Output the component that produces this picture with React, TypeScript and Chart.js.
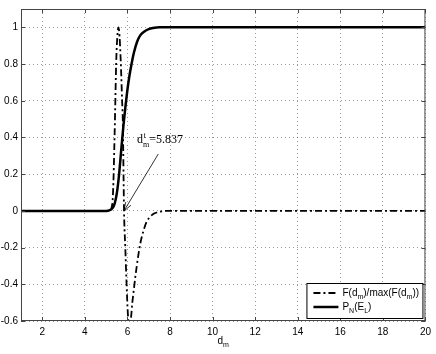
import React, { useEffect, useRef } from "react";
import { Chart, registerables } from "chart.js";
Chart.register(...registerables);

// P_N(E_L) curve (solid)
const pnX = [1, 5.0, 5.15, 5.3, 5.4, 5.5, 5.6, 5.7, 5.8, 5.9, 6.0, 6.1, 6.2, 6.3, 6.45, 6.6, 6.8, 7.0, 7.2, 7.5, 20];
const pnY = [0, 0, 0.003, 0.015, 0.04, 0.095, 0.19, 0.32, 0.45, 0.56, 0.66, 0.74, 0.805, 0.86, 0.92, 0.956, 0.978, 0.99, 0.996, 1, 1];

// F(d_m)/max(F(d_m)) curve (dash-dot)
const fX = [1, 5.1, 5.2, 5.26, 5.3, 5.34, 5.38, 5.42, 5.47, 5.52, 5.58, 5.63, 5.67, 5.71, 5.75, 5.78, 5.8, 5.82, 5.84, 5.9, 5.96, 6.02, 6.1, 6.17, 6.23, 6.3, 6.37, 6.44, 6.52, 6.6, 6.75, 6.9, 7.05, 7.2, 7.4, 7.6, 7.8, 20];
const fY = [0, 0, 0.004, 0.02, 0.05, 0.15, 0.33, 0.53, 0.8, 0.94, 1.0, 0.95, 0.86, 0.74, 0.6, 0.5, 0.35, 0.17, 0, -0.2, -0.4, -0.56, -0.64, -0.58, -0.5, -0.43, -0.36, -0.3, -0.235, -0.18, -0.11, -0.06, -0.035, -0.018, -0.008, -0.003, 0, 0];

const xTicks = [2, 4, 6, 8, 10, 12, 14, 16, 18, 20];
const yTicks = [-0.6, -0.4, -0.2, 0, 0.2, 0.4, 0.6, 0.8, 1];

const ANNOT_VALUE = 5.837;

const SANS = "'Liberation Sans', Arial, Helvetica, sans-serif";
const SERIF = "'Liberation Serif', 'Times New Roman', serif";
const DASHDOT = [7, 3, 2, 3];

type Part = { t: string; size: number; dy: number };

function drawRich(ctx: CanvasRenderingContext2D, parts: Part[], x: number, y: number, family: string, align: "left" | "center" = "left") {
  let total = 0;
  for (const p of parts) {
    ctx.font = `${p.size}px ${family}`;
    total += ctx.measureText(p.t).width;
  }
  let cx = align === "center" ? x - total / 2 : x;
  ctx.textAlign = "left";
  ctx.textBaseline = "alphabetic";
  for (const p of parts) {
    ctx.font = `${p.size}px ${family}`;
    ctx.fillText(p.t, cx, y + p.dy);
    cx += ctx.measureText(p.t).width;
  }
}

const decorPlugin = {
  id: "decor",
  afterDraw(chart: any) {
    const ctx: CanvasRenderingContext2D = chart.ctx;
    const { left, right, top, bottom } = chart.chartArea;
    const xs = chart.scales.x;
    const ys = chart.scales.y;
    ctx.save();
    ctx.fillStyle = "#000";

    // frame
    ctx.strokeStyle = "#444";
    ctx.lineWidth = 1;
    ctx.setLineDash([]);
    ctx.strokeRect(left + 0.5, top + 0.5, right - left - 1, bottom - top - 1);

    // inward ticks
    const tl = 4;
    ctx.beginPath();
    for (const v of xTicks) {
      const px = Math.round(xs.getPixelForValue(v)) + 0.5;
      ctx.moveTo(px, bottom);
      ctx.lineTo(px, bottom - tl);
      ctx.moveTo(px, top);
      ctx.lineTo(px, top + tl);
    }
    for (const v of yTicks) {
      const py = Math.round(ys.getPixelForValue(v)) + 0.5;
      ctx.moveTo(left, py);
      ctx.lineTo(left + tl, py);
      ctx.moveTo(right, py);
      ctx.lineTo(right - tl, py);
    }
    ctx.stroke();

    // x axis title d_m
    ctx.fillStyle = "#000";
    drawRich(ctx, [
      { t: "d", size: 10, dy: 0 },
      { t: "m", size: 7, dy: 3 },
    ], (left + right) / 2, bottom + 23, SANS, "center");

    // annotation arrow
    const tipX = xs.getPixelForValue(ANNOT_VALUE);
    const tipY = ys.getPixelForValue(0);
    const sx = xs.getPixelForValue(7.45);
    const sy = ys.getPixelForValue(0.31);
    ctx.strokeStyle = "#000";
    ctx.lineWidth = 0.8;
    ctx.beginPath();
    ctx.moveTo(sx, sy);
    ctx.lineTo(tipX, tipY);
    ctx.stroke();
    const ang = Math.atan2(tipY - sy, tipX - sx);
    const ah = 9;
    const aw = 0.35;
    ctx.beginPath();
    ctx.moveTo(tipX - ah * Math.cos(ang - aw), tipY - ah * Math.sin(ang - aw));
    ctx.lineTo(tipX, tipY);
    ctx.lineTo(tipX - ah * Math.cos(ang + aw), tipY - ah * Math.sin(ang + aw));
    ctx.stroke();

    // annotation text
    const txp = xs.getPixelForValue(6.45);
    const typ = ys.getPixelForValue(0.37);
    ctx.font = `12px ${SERIF}`;
    ctx.textAlign = "left";
    ctx.textBaseline = "alphabetic";
    ctx.fillText("d", txp, typ);
    const dw = ctx.measureText("d").width;
    ctx.font = `8px ${SERIF}`;
    ctx.fillText("t", txp + dw + 0.5, typ - 5);
    ctx.fillText("m", txp + dw, typ + 4);
    const mw = ctx.measureText("m").width;
    ctx.font = `12px ${SERIF}`;
    ctx.fillText("=" + ANNOT_VALUE.toFixed(3), txp + dw + mw, typ);

    // legend
    const bx = right - 119;
    const by = bottom - 38;
    const bw = 116;
    const bh = 35;
    ctx.fillStyle = "#fff";
    ctx.fillRect(bx, by, bw, bh);
    ctx.strokeStyle = "#000";
    ctx.lineWidth = 1;
    ctx.strokeRect(bx + 0.5, by + 0.5, bw, bh);

    const lx0 = bx + 7;
    const lx1 = bx + 32;
    const r1 = by + 10;
    const r2 = by + 24;
    ctx.lineWidth = 1.8;
    ctx.setLineDash(DASHDOT);
    ctx.beginPath();
    ctx.moveTo(lx0, r1);
    ctx.lineTo(lx1, r1);
    ctx.stroke();
    ctx.setLineDash([]);
    ctx.lineWidth = 2.5;
    ctx.beginPath();
    ctx.moveTo(lx0, r2);
    ctx.lineTo(lx1, r2);
    ctx.stroke();

    ctx.fillStyle = "#000";
    drawRich(ctx, [
      { t: "F(d", size: 10, dy: 0 },
      { t: "m", size: 7, dy: 3 },
      { t: ")/max(F(d", size: 10, dy: 0 },
      { t: "m", size: 7, dy: 3 },
      { t: "))", size: 10, dy: 0 },
    ], lx1 + 4, r1 + 3, SANS);
    drawRich(ctx, [
      { t: "P", size: 10, dy: 0 },
      { t: "N", size: 7, dy: 3 },
      { t: "(E", size: 10, dy: 0 },
      { t: "L", size: 7, dy: 3 },
      { t: ")", size: 10, dy: 0 },
    ], lx1 + 4, r2 + 3, SANS);

    ctx.restore();
  },
};

export default function App() {
  const ref = useRef<HTMLCanvasElement>(null);
  useEffect(() => {
    const chart = new Chart(ref.current!, {
      type: "line",
      data: {
        datasets: [
          {
            label: "F(d_m)/max(F(d_m))",
            data: fX.map((x, i) => ({ x, y: fY[i] })),
            borderColor: "#000",
            borderWidth: 1.8,
            borderDash: DASHDOT,
            pointRadius: 0,
            cubicInterpolationMode: "monotone",
            fill: false,
          },
          {
            label: "P_N(E_L)",
            data: pnX.map((x, i) => ({ x, y: pnY[i] })),
            borderColor: "#000",
            borderWidth: 2.5,
            pointRadius: 0,
            cubicInterpolationMode: "monotone",
            fill: false,
          },
        ],
      },
      options: {
        responsive: false,
        animation: false,
        devicePixelRatio: 1,
        layout: { padding: { top: 3, right: 10, left: 0, bottom: 0 } },
        plugins: { legend: { display: false }, tooltip: { enabled: false } },
        scales: {
          x: {
            type: "linear",
            min: 1,
            max: 20,
            afterBuildTicks: (axis: any) => {
              axis.ticks = xTicks.map((v) => ({ value: v }));
            },
            afterFit: (axis: any) => {
              axis.height = 33;
            },
            grid: {
              color: "rgba(0,0,0,0.4)",
              drawTicks: false,
              lineWidth: 1,
            },
            border: { display: false, dash: [1, 3] },
            ticks: {
              color: "#000",
              font: { family: SANS, size: 10 },
              padding: 5,
              maxRotation: 0,
              autoSkip: false,
              callback: (v: any) => String(v),
            },
          },
          y: {
            type: "linear",
            min: -0.6,
            max: 1.1,
            afterBuildTicks: (axis: any) => {
              axis.ticks = yTicks.map((v) => ({ value: v }));
            },
            afterFit: (axis: any) => {
              axis.width = 21;
            },
            grid: {
              color: "rgba(0,0,0,0.4)",
              drawTicks: false,
              lineWidth: 1,
            },
            border: { display: false, dash: [1, 3] },
            ticks: {
              color: "#000",
              font: { family: SANS, size: 10 },
              padding: 3,
              autoSkip: false,
              callback: (v: any) => String(Math.round(v * 10) / 10),
            },
          },
        },
      } as any,
      plugins: [decorPlugin],
    });
    return () => chart.destroy();
  }, []);
  return (
    <div style={{ position: "absolute", left: 0, top: 0, width: 436, height: 354, background: "#fff" }}>
      <canvas ref={ref} width={436} height={354} style={{ display: "block" }} />
    </div>
  );
}
